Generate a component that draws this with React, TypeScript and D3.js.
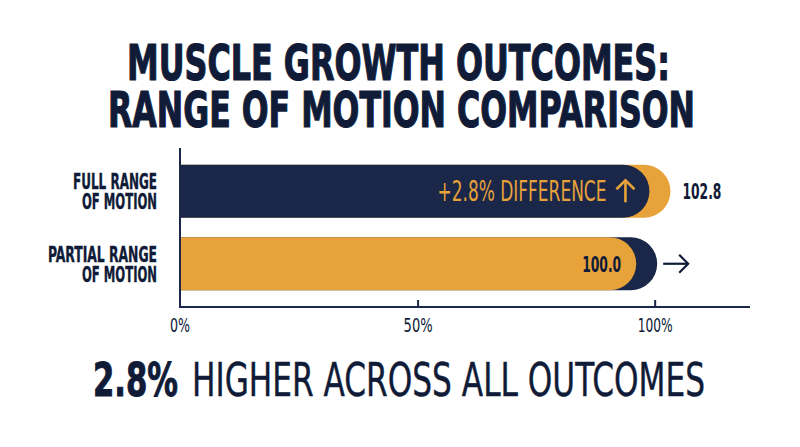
import React from "react";
import * as d3 from "d3";

const titleLines = ["MUSCLE GROWTH OUTCOMES:", "RANGE OF MOTION COMPARISON"];
const categories = ["Full Range of Motion", "Partial Range of Motion"];
const categoryLines = [["FULL RANGE", "OF MOTION"], ["PARTIAL RANGE", "OF MOTION"]];
const values = [102.8, 100.0];
const tickValues = [0, 50, 100];
const tickLabels = ["0%", "50%", "100%"];
const differenceLabel = "+2.8% DIFFERENCE";
const footerBold = "2.8%";
const footerRest = "HIGHER ACROSS ALL OUTCOMES";

const NAVY = "#1b2748";
const INK = "#101b38";
const ORANGE = "#e8a23a";
const FONT = "'Liberation Sans Narrow', 'DejaVu Sans Condensed', 'Roboto', sans-serif";

function roundedRight(x0: number, x1: number, y: number, h: number) {
  const r = h / 2;
  const p = d3.path();
  p.moveTo(x0, y);
  p.lineTo(x1 - r, y);
  p.arc(x1 - r, y + r, r, -Math.PI / 2, Math.PI / 2, false);
  p.lineTo(x0, y + h);
  p.closePath();
  return p.toString();
}

function labelWidth(s: string) {
  if (s === "FULL RANGE") return 84;
  if (s === "PARTIAL RANGE") return 109;
  return 75;
}

function tickWidth(s: string) {
  return s.length === 2 ? 20 : s.length === 3 ? 29 : 35;
}

export default function App() {
  const W = 800, H = 447;
  const x = d3.scaleLinear().domain([0, 120]).range([181, 750]);
  const y = d3.scaleBand<string>().domain(categories).range([155, 300]).paddingInner(0.269).paddingOuter(0.1345);
  const bh = y.bandwidth();
  const axisY = 307;
  const maxV = d3.max(values) as number;

  return (
    <svg width={W} height={H} style={{ position: "absolute", left: 0, top: 0, background: "#fff" }} fontFamily={FONT}>
      <rect width={W} height={H} fill="#fff" />
      {/* Title */}
      <text x={127} y={80} fontSize={50} fontWeight={700} fill={INK} stroke={INK} strokeWidth={1.2} textLength={543} lengthAdjust="spacingAndGlyphs">{titleLines[0]}</text>
      <text x={108} y={127} fontSize={50} fontWeight={700} fill={INK} stroke={INK} strokeWidth={1.2} textLength={587} lengthAdjust="spacingAndGlyphs">{titleLines[1]}</text>

      {/* Bars */}
      {categories.map((c, i) => {
        const v = values[i];
        const y0 = y(c) as number;
        const back = x(v) + 2;
        const front = back - 21;
        const isMax = v === maxV;
        const frontColor = isMax ? NAVY : ORANGE;
        const backColor = isMax ? ORANGE : NAVY;
        const cy = y0 + bh / 2;
        return (
          <g key={c}>
            <path d={roundedRight(x(0), back, y0, bh)} fill={backColor} />
            <path d={roundedRight(x(0), front, y0, bh)} fill={frontColor} />
            {isMax ? (
              <g>
                <text x={front - 43} y={cy + 10} fontSize={28} fill={ORANGE} textAnchor="end" textLength={169} lengthAdjust="spacingAndGlyphs">{differenceLabel}</text>
                <g stroke={ORANGE} strokeWidth={2.6} fill="none" strokeLinecap="butt">
                  <line x1={front - 24} y1={cy - 10} x2={front - 24} y2={cy + 11} />
                  <polyline points={`${front - 33},${cy - 2} ${front - 24},${cy - 11} ${front - 15},${cy - 2}`} />
                </g>
                <text x={back + 12} y={cy + 7.5} fontSize={21} fontWeight={700} fill={INK} textLength={39} lengthAdjust="spacingAndGlyphs">{v.toFixed(1)}</text>
              </g>
            ) : (
              <g>
                <text x={front - 15} y={cy + 8} fontSize={21} fontWeight={700} fill={INK} textAnchor="end" textLength={39} lengthAdjust="spacingAndGlyphs">{v.toFixed(1)}</text>
                <g stroke={INK} strokeWidth={2.2} fill="none">
                  <line x1={back + 6} y1={cy} x2={back + 31} y2={cy} />
                  <polyline points={`${back + 22},${cy - 9} ${back + 31},${cy} ${back + 22},${cy + 9}`} />
                </g>
              </g>
            )}
            {categoryLines[i].map((ln, j) => (
              <text key={j} x={157} y={cy - 2 + j * 20} fontSize={21} fontWeight={700} fill={INK} stroke={INK} strokeWidth={0.4} textAnchor="end"
                textLength={labelWidth(ln)} lengthAdjust="spacingAndGlyphs">{ln}</text>
            ))}
          </g>
        );
      })}

      {/* Axes */}
      <line x1={180} y1={148} x2={180} y2={axisY + 1} stroke={NAVY} strokeWidth={2} />
      <line x1={179} y1={axisY} x2={x(120)} y2={axisY} stroke={NAVY} strokeWidth={2} />
      {tickValues.map((t, i) => (
        <g key={t}>
          {t !== 0 && <line x1={x(t)} y1={axisY - 7} x2={x(t)} y2={axisY} stroke={NAVY} strokeWidth={2} />}
          <text x={x(t) - (t === 0 ? 1 : 0)} y={332} fontSize={20} fill={INK} textAnchor="middle"
            textLength={tickWidth(tickLabels[i])} lengthAdjust="spacingAndGlyphs">{tickLabels[i]}</text>
        </g>
      ))}

      {/* Footer */}
      <text x={93} y={396} fontSize={46} fontWeight={700} fill={INK} stroke={INK} strokeWidth={1} textLength={85} lengthAdjust="spacingAndGlyphs">{footerBold}</text>
      <text x={192} y={396} fontSize={46} fontWeight={400} fill={INK} stroke={INK} strokeWidth={0.4} textLength={513} lengthAdjust="spacingAndGlyphs">{footerRest}</text>
    </svg>
  );
}
